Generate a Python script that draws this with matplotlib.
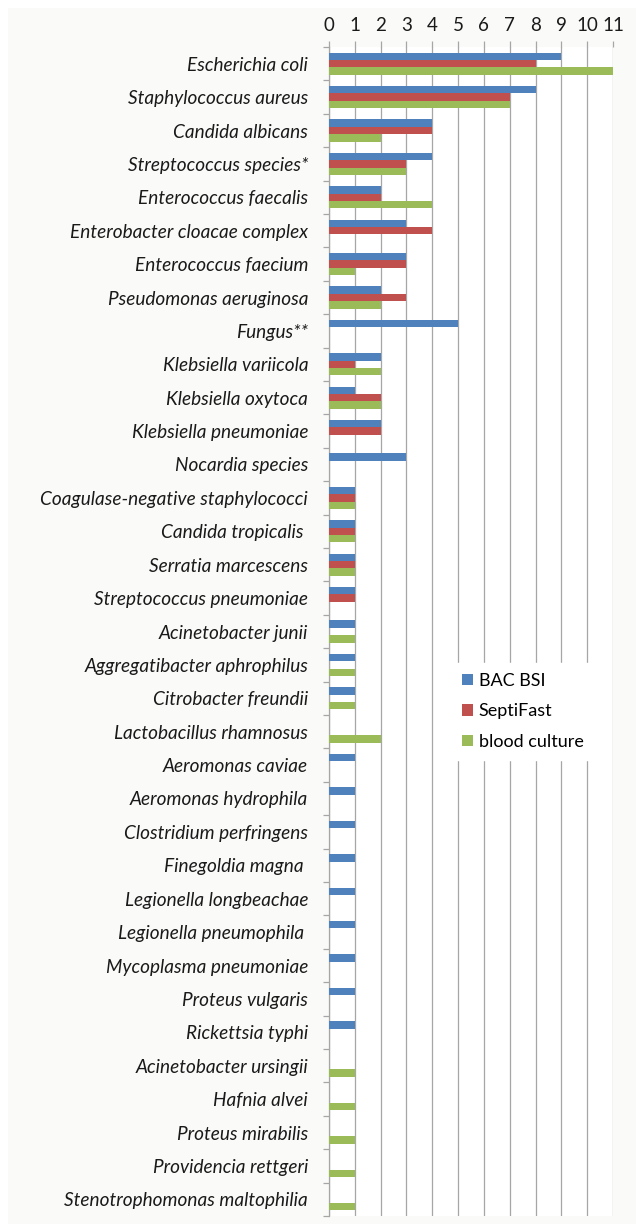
import numpy as np
import matplotlib
matplotlib.use("Agg")
import matplotlib.pyplot as plt
from matplotlib.patches import Rectangle

plt.rcParams["font.family"] = ["Lato", "DejaVu Sans"]

organisms = [
    "Escherichia coli", "Staphylococcus aureus", "Candida albicans",
    "Streptococcus species*", "Enterococcus faecalis", "Enterobacter cloacae complex",
    "Enterococcus faecium", "Pseudomonas aeruginosa", "Fungus**",
    "Klebsiella variicola", "Klebsiella oxytoca", "Klebsiella pneumoniae",
    "Nocardia species", "Coagulase-negative staphylococci", "Candida tropicalis ",
    "Serratia marcescens", "Streptococcus pneumoniae", "Acinetobacter junii",
    "Aggregatibacter aphrophilus", "Citrobacter freundii", "Lactobacillus rhamnosus",
    "Aeromonas caviae", "Aeromonas hydrophila", "Clostridium perfringens",
    "Finegoldia magna ", "Legionella longbeachae", "Legionella pneumophila ",
    "Mycoplasma pneumoniae", "Proteus vulgaris", "Rickettsia typhi",
    "Acinetobacter ursingii", "Hafnia alvei", "Proteus mirabilis",
    "Providencia rettgeri", "Stenotrophomonas maltophilia",
]
bac_bsi = [9, 8, 4, 4, 2, 3, 3, 2, 5, 2, 1, 2, 3, 1, 1, 1, 1, 1, 1, 1, 0,
           1, 1, 1, 1, 1, 1, 1, 1, 1, 0, 0, 0, 0, 0]
septifast = [8, 7, 4, 3, 2, 4, 3, 3, 0, 1, 2, 2, 0, 1, 1, 1, 1, 0, 0, 0, 0,
             0, 0, 0, 0, 0, 0, 0, 0, 0, 0, 0, 0, 0, 0]
blood_culture = [11, 7, 2, 3, 4, 0, 1, 2, 0, 2, 2, 0, 0, 1, 1, 1, 0, 1, 1, 1, 2,
                 0, 0, 0, 0, 0, 0, 0, 0, 0, 1, 1, 1, 1, 1]

series = [("BAC BSI", bac_bsi, "#4F81BD"),
          ("SeptiFast", septifast, "#C0504D"),
          ("blood culture", blood_culture, "#9BBB59")]

W, H = 636, 1224
fig = plt.figure(figsize=(W / 100, H / 100), dpi=100)
fig.patch.set_facecolor("white")
fig.patches.append(Rectangle((8 / W, 0), 1, 1 - 8 / H, transform=fig.transFigure,
                             facecolor="#fafbf9", edgecolor="none", zorder=-10))

ax = fig.add_axes([329 / W, 1 - 1216 / H, (613 - 329) / W, (1216 - 47) / H])
ax.set_facecolor("white")

y = np.arange(len(organisms))
bh = 0.222
for i, (name, vals, col) in enumerate(series):
    ax.barh(y + (i - 1) * bh, vals, height=bh, color=col, label=name, zorder=3)

ax.set_xlim(0, 11)
ax.set_ylim(len(organisms) - 0.5, -0.5)
ax.set_xticks(range(12))
ax.xaxis.tick_top()
ax.tick_params(axis="x", top=True, bottom=False, length=4.5, width=0.9,
               color="#a6a6a6", labelsize=13.5, pad=5, labelcolor="#1a1a1a")
ax.grid(axis="x", color="#a6a6a6", linewidth=0.9, zorder=0)

ax.set_yticks(y)
ax.set_yticklabels(organisms, fontstyle="italic", fontsize=13.7, color="#1a1a1a")
ax.set_yticks(np.arange(-0.5, len(organisms)), minor=True)
ax.tick_params(axis="y", which="major", length=0, pad=15)
ax.tick_params(axis="y", which="minor", length=4.5, width=0.9, color="#a6a6a6")

for s in ["top", "right", "bottom"]:
    ax.spines[s].set_visible(False)
ax.spines["left"].set_color("#a6a6a6")
ax.spines["left"].set_linewidth(0.9)

leg = ax.legend(loc="upper left", bbox_to_anchor=(443 / W, 1 - 654 / H),
                bbox_transform=fig.transFigure, fontsize=13, frameon=True,
                fancybox=False, handlelength=0.62, handleheight=0.62,
                handletextpad=0.3, labelspacing=0.8, borderpad=0.55)
leg.get_frame().set_facecolor("white")
leg.get_frame().set_edgecolor("white")
leg.get_frame().set_alpha(1)
leg.set_zorder(5)

fig.savefig("out.png", dpi=100)
